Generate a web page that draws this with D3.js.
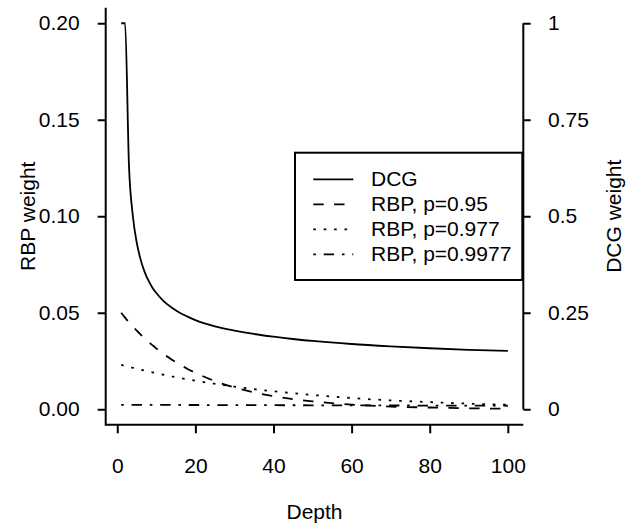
<!DOCTYPE html>
<html>
<head>
<meta charset="utf-8">
<script src="https://cdn.jsdelivr.net/npm/d3@7"></script>
<style>
  body { margin: 0; background: #fff; }
  svg text { font-family: "Liberation Sans", Arial, Helvetica, sans-serif; fill: #000; }
</style>
</head>
<body>
<svg width="626" height="527"></svg>
<script>
// values
const depth   = [1, 2, 3, 4, 5, 6, 7, 8, 9, 10, 12, 14, 16, 18, 20, 25, 30, 35, 40, 45, 50, 60, 70, 80, 90, 100];
const dcg     = [1, 1, 0.631, 0.5, 0.431, 0.387, 0.356, 0.333, 0.315, 0.301, 0.279, 0.263, 0.25, 0.24, 0.231,
                 0.215, 0.204, 0.195, 0.188, 0.182, 0.177, 0.169, 0.163, 0.158, 0.154, 0.151];
const rbp95   = [0.05, 0.0475, 0.0451, 0.0429, 0.0407, 0.0387, 0.0368, 0.0349, 0.0332, 0.0315, 0.0284, 0.0257,
                 0.0232, 0.0209, 0.0189, 0.0146, 0.0113, 0.0087, 0.0068, 0.0052, 0.0041, 0.0024, 0.0014, 0.0009, 0.0005, 0.0003];
const rbp977  = [0.023, 0.0225, 0.022, 0.0215, 0.021, 0.0205, 0.02, 0.0195, 0.0191, 0.0187, 0.0178, 0.017,
                 0.0162, 0.0155, 0.0148, 0.0132, 0.0117, 0.0104, 0.0093, 0.0083, 0.0074, 0.0058, 0.0046, 0.0037, 0.0029, 0.0023];
const rbp9977 = [0.0023, 0.00229, 0.00229, 0.00228, 0.00228, 0.00227, 0.00227, 0.00226, 0.00226, 0.00225, 0.00224, 0.00223,
                 0.00222, 0.00221, 0.0022, 0.00218, 0.00215, 0.00213, 0.0021, 0.00208, 0.00205, 0.00201, 0.00196, 0.00192, 0.00187, 0.00183];

const xTicks = [0, 20, 40, 60, 80, 100];
const leftTicks = [0, 0.05, 0.1, 0.15, 0.2];
const leftLabels = ['0.00', '0.05', '0.10', '0.15', '0.20'];
const rightTicks = [0, 0.25, 0.5, 0.75, 1];
const rightLabels = ['0', '0.25', '0.5', '0.75', '1'];

const legendLabels = ['DCG', 'RBP, p=0.95', 'RBP, p=0.977', 'RBP, p=0.9977'];
const dashes = [null, '10.4,10.4', '2.6,7.8', '2.6,7.8,10.4,7.8'];

const plot = {left: 105.7, right: 523.3, top: 7.8, bottom: 424.7};
const fontSize = 21;

const svg = d3.select('svg');

const pad = (lo, hi) => [lo - (hi - lo) * 0.04, hi + (hi - lo) * 0.04];

const xScale = d3.scaleLinear().domain(pad(1, 100)).range([plot.left, plot.right]);
const yLeft = d3.scaleLinear().domain(pad(0, 0.2)).range([plot.bottom, plot.top]);
const yRight = d3.scaleLinear().domain(pad(0, 1)).range([plot.bottom, plot.top]);

// box (left + bottom)
svg.append('path')
  .attr('d', `M${plot.left},${plot.top}V${plot.bottom}H${plot.right}`)
  .attr('fill', 'none').attr('stroke', '#000').attr('stroke-width', 2);

// left axis
const gl = svg.append('g').attr('transform', `translate(${plot.left},0)`)
  .call(d3.axisLeft(yLeft).tickValues(leftTicks).tickSize(8).tickPadding(18)
    .tickFormat((d, i) => leftLabels[i]));
gl.select('.domain').remove();

// bottom axis
const gb = svg.append('g').attr('transform', `translate(0,${plot.bottom})`)
  .call(d3.axisBottom(xScale).tickValues(xTicks).tickSize(8.6).tickPadding(24.5));
gb.select('.domain').remove();

// right axis
const gr = svg.append('g').attr('transform', `translate(${plot.right},0)`)
  .call(d3.axisRight(yRight).tickValues(rightTicks).tickSize(7.4).tickPadding(17.3)
    .tickFormat((d, i) => rightLabels[i]));
gr.select('.domain').remove();
gr.append('line')
  .attr('y1', yRight(0)).attr('y2', yRight(1))
  .attr('stroke', '#000').attr('stroke-width', 2);

svg.selectAll('.tick line').attr('stroke-width', 2);
svg.selectAll('.tick text').attr('font-size', fontSize).attr('font-family', null);

// series
const series = [
  {vals: dcg, y: yRight},
  {vals: rbp95, y: yLeft},
  {vals: rbp977, y: yLeft},
  {vals: rbp9977, y: yLeft}
];

series.forEach((s, k) => {
  const line = d3.line()
    .x((d, i) => xScale(depth[i]))
    .y(d => s.y(d))
    .curve(d3.curveMonotoneX);
  svg.append('path')
    .attr('d', line(s.vals))
    .attr('fill', 'none')
    .attr('stroke', '#000')
    .attr('stroke-width', 1.8)
    .attr('stroke-dasharray', dashes[k]);
});

// legend
const lg = svg.append('g');
lg.append('rect')
  .attr('x', 295).attr('y', 152.7).attr('width', 227.3).attr('height', 127.3)
  .attr('fill', '#fff').attr('stroke', '#000').attr('stroke-width', 2);

legendLabels.forEach((lab, i) => {
  const cy = 179.3 + i * 25;
  lg.append('line')
    .attr('x1', 313.3).attr('x2', 353.3).attr('y1', cy).attr('y2', cy)
    .attr('stroke', '#000').attr('stroke-width', 1.8)
    .attr('stroke-dasharray', dashes[i]);
  lg.append('text')
    .attr('x', 371).attr('y', cy + 7)
    .attr('font-size', fontSize)
    .text(lab);
});

// axis titles
svg.append('text')
  .attr('x', (plot.left + plot.right) / 2).attr('y', 519)
  .attr('text-anchor', 'middle').attr('font-size', fontSize)
  .text('Depth');

svg.append('text')
  .attr('transform', `translate(35,${(plot.top + plot.bottom) / 2}) rotate(-90)`)
  .attr('text-anchor', 'middle').attr('font-size', fontSize)
  .text('RBP weight');

svg.append('text')
  .attr('transform', `translate(620.7,${(plot.top + plot.bottom) / 2}) rotate(-90)`)
  .attr('text-anchor', 'middle').attr('font-size', fontSize)
  .text('DCG weight');
</script>
</body>
</html>
